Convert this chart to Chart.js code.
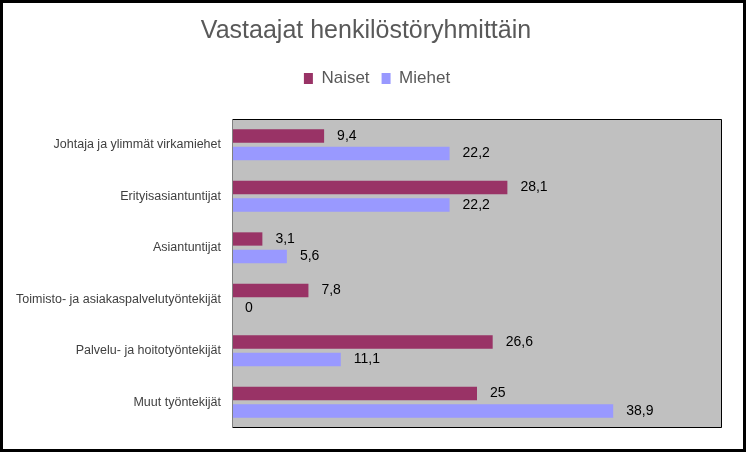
<!DOCTYPE html>
<html>
<head>
<meta charset="utf-8">
<script src="https://cdn.jsdelivr.net/npm/chart.js@4.4.1/dist/chart.umd.min.js"></script>
<style>
html,body{margin:0;padding:0;background:#fff;}
#wrap{width:746px;height:452px;position:relative;}
</style>
</head>
<body>
<div id="wrap"><canvas id="c" width="746" height="452"></canvas></div>
<script>
const categories = [
  "Johtaja ja ylimmät virkamiehet",
  "Erityisasiantuntijat",
  "Asiantuntijat",
  "Toimisto- ja asiakaspalvelutyöntekijät",
  "Palvelu- ja hoitotyöntekijät",
  "Muut työntekijät"
];
const naiset = [9.4, 28.1, 3.1, 7.8, 26.6, 25];
const miehet = [22.2, 22.2, 5.6, 0, 11.1, 38.9];
const seriesNames = ["Naiset", "Miehet"];
const chartTitle = "Vastaajat henkilöstöryhmittäin";

const SANS = "'Liberation Sans', Arial, sans-serif";

const bgPlugin = {
  id: 'bgPlugin',
  afterLayout(chart) {
    if (chart.legend) { chart.legend.left += 11; chart.legend.right += 11; }
  },
  beforeDraw(chart) {
    const ctx = chart.ctx, a = chart.chartArea;
    ctx.save();
    ctx.fillStyle = '#ffffff';
    ctx.fillRect(0, 0, chart.width, chart.height);
    ctx.fillStyle = '#c0c0c0';
    ctx.fillRect(a.left, a.top, a.right - a.left, a.bottom - a.top);
    ctx.restore();
  },
  afterDraw(chart) {
    const ctx = chart.ctx, a = chart.chartArea;
    ctx.save();
    ctx.strokeStyle = '#000';
    ctx.lineWidth = 1;
    ctx.beginPath();
    ctx.moveTo(a.left, a.top + 0.5);
    ctx.lineTo(a.right - 0.5, a.top + 0.5);
    ctx.lineTo(a.right - 0.5, a.bottom - 0.5);
    ctx.lineTo(a.left, a.bottom - 0.5);
    ctx.stroke();
    ctx.strokeStyle = '#808080';
    ctx.beginPath();
    ctx.moveTo(a.left + 0.5, a.top);
    ctx.lineTo(a.left + 0.5, a.bottom);
    ctx.stroke();
    ctx.lineWidth = 3;
    ctx.strokeStyle = '#000';
    ctx.strokeRect(1.5, 1.5, chart.width - 3, chart.height - 3);
    ctx.restore();
  }
};

const labelPlugin = {
  id: 'labelPlugin',
  afterDatasetsDraw(chart) {
    const ctx = chart.ctx;
    ctx.save();
    ctx.font = '14px ' + SANS;
    ctx.fillStyle = '#000';
    ctx.textBaseline = 'middle';
    ctx.textAlign = 'left';
    chart.data.datasets.forEach((ds, di) => {
      const meta = chart.getDatasetMeta(di);
      meta.data.forEach((el, i) => {
        const txt = String(ds.data[i]).replace('.', ',');
        ctx.fillText(txt, el.x + 13, el.y);
      });
    });
    ctx.restore();
  }
};

new Chart(document.getElementById('c'), {
  type: 'bar',
  data: {
    labels: categories,
    datasets: [
      { label: seriesNames[0], data: naiset, backgroundColor: '#993366', categoryPercentage: 0.68, barPercentage: 0.76 },
      { label: seriesNames[1], data: miehet, backgroundColor: '#9999ff', categoryPercentage: 0.68, barPercentage: 0.76 }
    ]
  },
  options: {
    indexAxis: 'y',
    responsive: false,
    animation: false,
    devicePixelRatio: 1,
    layout: { padding: { top: 8, right: 24, bottom: 24, left: 10 } },
    plugins: {
      title: {
        display: true,
        text: chartTitle,
        color: '#595959',
        font: { family: SANS, size: 25, weight: 'normal' },
        padding: { top: 8, bottom: 12 }
      },
      legend: {
        display: true,
        position: 'top',
        labels: {
          color: '#595959',
          font: { family: SANS, size: 17 },
          boxWidth: 9,
          boxHeight: 11,
          padding: 12
        }
      },
      tooltip: { enabled: false }
    },
    scales: {
      x: {
        position: 'top', min: 0, max: 50,
        grid: { display: false }, border: { display: false },
        ticks: { display: false },
        afterFit(scale) { scale.height = 22; }
      },
      y: {
        grid: { display: false },
        border: { display: false },
        ticks: { color: '#404040', font: { family: SANS, size: 12.5 }, padding: 3 },
        afterFit(scale) { scale.width = 222; }
      }
    }
  },
  plugins: [bgPlugin, labelPlugin]
});
</script>
</body>
</html>
